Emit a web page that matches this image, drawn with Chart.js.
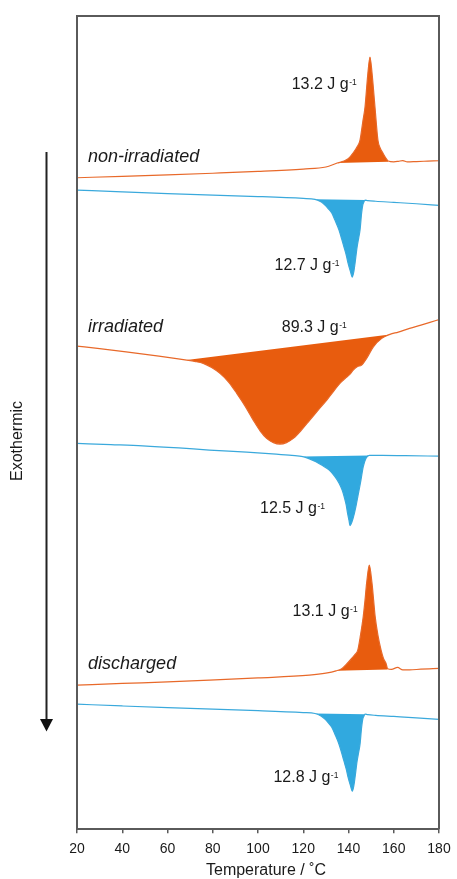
<!DOCTYPE html>
<html lang="en">
<head>
<meta charset="UTF-8">
<title>DSC</title>
<script src="https://cdn.jsdelivr.net/npm/chart.js"></script>
<style>
  html, body { margin: 0; padding: 0; background: #fff; }
  #wrap { width: 457px; height: 879px; position: relative; }
</style>
</head>
<body>
<div id="wrap"><canvas id="dscChart"></canvas></div>
<script>
// temperatures (°C) and offset heat flow (arb. units, downward = exothermic)
const tNonIrrHeat = [20, 40, 60, 80, 100, 120, 130, 135, 138, 140, 142, 144, 145.1, 146.3, 147.3, 148.5, 149.5, 150.4, 151.7, 153, 154, 155.2, 156.5, 157.5, 160, 162, 164, 166, 170, 175, 180];
const hNonIrrHeat = [177.7, 176.3, 174.8, 173.2, 171.4, 169, 167, 163, 161, 158.5, 153, 146, 140, 122, 107, 75, 57, 73, 107, 140, 148, 153, 158, 161, 161.8, 161.3, 160.5, 161.8, 161.5, 161.1, 160.7];
const tNonIrrCool = [20, 40, 60, 80, 100, 120, 125.2, 128, 129.6, 131, 132.6, 134, 135.8, 137, 138, 139, 139.8, 140.8, 141.7, 142.4, 142.9, 143.8, 144.5, 145.1, 145.8, 146.3, 146.8, 147.3, 148.5, 152, 160, 170, 180];
const hNonIrrCool = [190, 191.8, 193.5, 195, 196.5, 198.4, 199.3, 202, 205, 208.5, 213, 220, 230, 239, 247, 255, 263, 271, 277, 271, 263, 247, 238, 230, 213, 205, 202, 200, 200.5, 201.2, 202.3, 203.7, 205.3];

const tIrrHeat = [20, 30, 41.7, 56.2, 64, 68.5, 72, 75.8, 79.5, 83.2, 87, 90.6, 94.3, 97.9, 101, 103.8, 106.8, 109.7, 112.6, 115.6, 119.2, 122.9, 126.6, 130.4, 133.3, 136.2, 138.5, 140.7, 142.1, 144, 145.8, 148, 151, 154.7, 158.3, 162, 167, 172, 176, 180];
const hIrrHeat = [346, 348.5, 351.7, 356, 358.5, 360, 361.3, 363.3, 367.5, 373.3, 382, 393.3, 406, 420, 431, 438.3, 442.5, 444, 442.5, 438.3, 430, 420, 410, 400, 391.5, 383.3, 378.5, 374, 370, 366.5, 365, 358.3, 346.7, 338.3, 334.3, 332, 328.3, 325, 322.3, 319.5];
const tIrrCool = [20, 35, 49, 65, 78.5, 95, 108, 115, 119.8, 122.5, 125.6, 128.5, 131.5, 134, 135.9, 137.2, 138.1, 139, 139.6, 140.2, 140.7, 141.5, 142.6, 143.4, 144.1, 145.5, 146.5, 147.7, 149.2, 155, 165, 180];
const hIrrCool = [443.3, 444.5, 445.7, 447.8, 450, 452, 454, 455.3, 456.5, 458.5, 461.7, 465.5, 470, 476.5, 483.3, 490, 496.7, 505, 513.3, 520, 525.5, 522, 513.3, 505, 496.7, 480, 466.7, 458.3, 455.3, 455.3, 455.6, 456];

const tDisHeat = [20, 40, 60, 78.5, 100, 122.7, 130, 134.5, 137, 139.4, 141.5, 143, 144.1, 145.3, 146.5, 147.3, 148, 149.2, 150.4, 151.1, 151.8, 153, 154.4, 155.5, 156.6, 157.3, 159, 161.7, 164, 167, 172, 180];
const hDisHeat = [685, 683.3, 681.7, 680, 677.8, 675, 673, 670.7, 668.5, 663.3, 658, 654, 650, 635, 616.7, 600, 583.3, 565, 583.3, 600, 616.7, 635, 650, 658.5, 663.3, 668.5, 669.2, 667.3, 669.7, 669.7, 669, 668.3];
const tDisCool = [20, 40, 60, 80, 100, 120, 125.2, 128, 129.6, 131, 132.6, 134, 135.8, 137, 138, 139, 139.8, 140.8, 141.7, 142.4, 142.9, 143.8, 144.5, 145.1, 145.8, 146.3, 146.8, 147.3, 148.5, 152, 160, 170, 180];
const hDisCool = [704, 705.8, 707.5, 709, 710.5, 712.4, 713.3, 716, 719, 722.5, 727, 734, 744, 753, 761, 769, 777, 785, 791, 785, 777, 761, 752, 744, 727, 719, 716, 714, 714.5, 715.2, 716.3, 717.7, 719.3];

// integration baselines (start, end)
const baseT = [[135, 157.5], [125.2, 147.3], [68.5, 158.3], [119.8, 149.2], [134.5, 157.3], [125.2, 147.3]];
const baseH = [[163, 161.8], [199.3, 200], [360, 334.3], [456.5, 455.3], [670.7, 669.3], [713.3, 714]];

// enthalpy labels
const enthalpyText = ['13.2 J g', '12.7 J g', '89.3 J g', '12.5 J g', '13.1 J g', '12.8 J g'];
const enthalpyT = [114.9, 107.3, 110.5, 100.9, 115.3, 106.8];
const enthalpyH = [89, 270, 332.3, 513.3, 616, 782];

const sampleNames = ['non-irradiated', 'irradiated', 'discharged'];
const sampleT = [24.9, 24.9, 24.9];
const sampleH = [162, 331.5, 669];

const xTicks = [20, 40, 60, 80, 100, 120, 140, 160, 180];

const orange = '#e85c0e';
const orangeLine = '#e8692a';
const blue = '#31a9df';
const blueLine = '#3aa9dc';
const fontFam = '"Liberation Sans", Arial, Helvetica, sans-serif';

function pts(t, h) { return t.map((v, i) => ({ x: v, y: h[i] })); }

const curves = [
    [tNonIrrHeat, hNonIrrHeat, orangeLine, orange],
    [tNonIrrCool, hNonIrrCool, blueLine, blue],
    [tIrrHeat, hIrrHeat, orangeLine, orange],
    [tIrrCool, hIrrCool, blueLine, blue],
    [tDisHeat, hDisHeat, orangeLine, orange],
    [tDisCool, hDisCool, blueLine, blue]
];

const datasets = [];
curves.forEach((c, k) => {
    const idx = datasets.length;
    datasets.push({
        data: pts(c[0], c[1]),
        borderColor: c[2],
        borderWidth: 1.2,
        backgroundColor: c[3],
        fill: { target: idx + 1 },
        pointRadius: 0,
        cubicInterpolationMode: 'monotone'
    });
    datasets.push({
        data: pts(baseT[k], baseH[k]),
        borderColor: c[3],
        borderWidth: 0,
        pointRadius: 0,
        fill: false
    });
});

// frame, arrow and text
const extras = {
    id: 'extras',
    afterDraw(chart) {
        const ctx = chart.ctx;
        const a = chart.chartArea;
        const xs = chart.scales.x, ys = chart.scales.y;
        ctx.save();

        // frame
        ctx.strokeStyle = '#5a5a5a';
        ctx.lineWidth = 2;
        ctx.beginPath();
        ctx.moveTo(a.left, a.bottom);
        ctx.lineTo(a.left, a.top);
        ctx.lineTo(a.right, a.top);
        ctx.lineTo(a.right, a.bottom);
        ctx.stroke();

        // enthalpy labels with superscript
        ctx.fillStyle = '#1a1a1a';
        ctx.textBaseline = 'alphabetic';
        ctx.textAlign = 'left';
        enthalpyText.forEach((txt, i) => {
            const x = xs.getPixelForValue(enthalpyT[i]);
            const y = ys.getPixelForValue(enthalpyH[i]);
            ctx.font = '16px ' + fontFam;
            ctx.fillText(txt, x, y);
            const w = ctx.measureText(txt).width;
            ctx.font = '8.5px ' + fontFam;
            ctx.fillText('-1', x + w + 0.5, y - 4.5);
        });

        // sample names
        ctx.font = 'italic 18px ' + fontFam;
        sampleNames.forEach((txt, i) => {
            ctx.fillText(txt, xs.getPixelForValue(sampleT[i]), ys.getPixelForValue(sampleH[i]));
        });

        // x axis title
        ctx.textAlign = 'center';
        ctx.textBaseline = 'middle';
        ctx.font = '16px ' + fontFam;
        ctx.fillText('Temperature / ˚C', (a.left + a.right) / 2 + 8, 870.5);

        // exothermic arrow
        ctx.strokeStyle = '#222';
        ctx.fillStyle = '#111';
        ctx.lineWidth = 2;
        ctx.beginPath();
        ctx.moveTo(46.5, 152);
        ctx.lineTo(46.5, 722);
        ctx.stroke();
        ctx.beginPath();
        ctx.moveTo(40, 719);
        ctx.lineTo(53, 719);
        ctx.lineTo(46.5, 731.5);
        ctx.closePath();
        ctx.fill();

        ctx.translate(18, 441);
        ctx.rotate(-Math.PI / 2);
        ctx.font = '16px ' + fontFam;
        ctx.fillStyle = '#1a1a1a';
        ctx.fillText('Exothermic', 0, 0);
        ctx.restore();
    }
};

new Chart(document.getElementById('dscChart').getContext('2d'), {
    type: 'line',
    data: { datasets: datasets },
    options: {
        responsive: true,
        maintainAspectRatio: false,
        animation: false,
        layout: { padding: { left: 77, right: 18, top: 16, bottom: 13 } },
        plugins: {
            legend: { display: false },
            tooltip: { enabled: false }
        },
        scales: {
            x: {
                type: 'linear',
                min: 20,
                max: 180,
                afterBuildTicks: (s) => { s.ticks = xTicks.map(v => ({ value: v })); },
                afterFit: (s) => { s.paddingLeft = 0; s.paddingRight = 0; },
                ticks: { color: '#1a1a1a', padding: 8, font: { family: fontFam, size: 14 } },
                grid: { display: true, drawOnChartArea: false, drawTicks: true, tickLength: 4, color: '#5a5a5a', lineWidth: 1.5 },
                border: { display: true, color: '#5a5a5a', width: 2 },
                title: { display: false }
            },
            y: {
                type: 'linear',
                min: 16,
                max: 829,
                reverse: true,
                display: false
            }
        }
    },
    plugins: [extras]
});
</script>
</body>
</html>
